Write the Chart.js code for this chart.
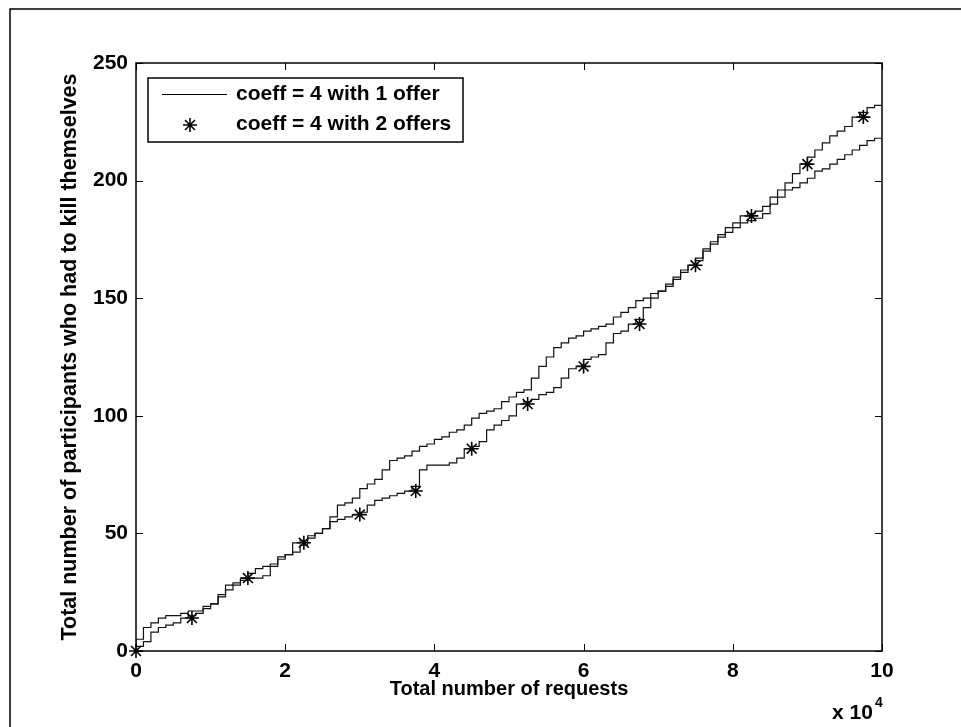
<!DOCTYPE html>
<html>
<head>
<meta charset="utf-8">
<title>Participants who had to kill themselves</title>
<script src="https://cdn.jsdelivr.net/npm/chart.js@4"></script>
<style>
  html, body { margin: 0; padding: 0; background: #fff; }
  #wrap { width: 961px; height: 727px; }
</style>
</head>
<body>
<div id="wrap"><canvas id="chart" width="961" height="727"></canvas></div>
<script>
// valeurs (x en requêtes, y en participants)
const requests = [
  0, 1000, 2000, 3000, 4000, 5000, 6000, 7000, 8000, 9000,
  10000, 11000, 12000, 13000, 14000, 15000, 16000, 17000, 18000, 19000,
  20000, 21000, 22000, 23000, 24000, 25000, 26000, 27000, 28000, 29000,
  30000, 31000, 32000, 33000, 34000, 35000, 36000, 37000, 38000, 39000,
  40000, 41000, 42000, 43000, 44000, 45000, 46000, 47000, 48000, 49000,
  50000, 51000, 52000, 53000, 54000, 55000, 56000, 57000, 58000, 59000,
  60000, 61000, 62000, 63000, 64000, 65000, 66000, 67000, 68000, 69000,
  70000, 71000, 72000, 73000, 74000, 75000, 76000, 77000, 78000, 79000,
  80000, 81000, 82000, 83000, 84000, 85000, 86000, 87000, 88000, 89000,
  90000, 91000, 92000, 93000, 94000, 95000, 96000, 97000, 98000, 99000,
  100000
];
const oneOffer = [
  0, 5, 10, 12, 14, 15, 15, 16, 17, 17,
  19, 20, 23, 26, 28, 30, 33, 35, 36, 37,
  40, 41, 42, 45, 48, 50, 52, 57, 62, 63,
  65, 69, 71, 73, 77, 81, 82, 83, 85, 87,
  88, 90, 91, 93, 94, 96, 99, 101, 102, 103,
  106, 108, 110, 111, 116, 121, 125, 129, 131, 133,
  134, 136, 137, 138, 139, 142, 144, 146, 149, 150,
  152, 153, 155, 158, 161, 164, 166, 170, 173, 176,
  178, 180, 182, 183, 184, 186, 190, 193, 196, 197,
  199, 201, 204, 205, 207, 209, 211, 213, 215, 217,
  218
];
const twoOffers = [
  0, 2, 4, 8, 10, 11, 12, 14, 15, 16,
  18, 20, 24, 28, 29, 31, 31, 31, 32, 36,
  39, 41, 46, 47, 49, 50, 52, 55, 56, 57,
  58, 59, 62, 64, 65, 66, 67, 68, 70, 77,
  79, 79, 79, 80, 82, 86, 87, 89, 94, 96,
  98, 100, 105, 106, 107, 109, 110, 112, 116, 120,
  121, 124, 125, 126, 131, 135, 136, 139, 141, 146,
  150, 153, 156, 159, 162, 164, 167, 171, 174, 177,
  180, 182, 185, 186, 187, 189, 193, 196, 199, 203,
  207, 210, 213, 216, 219, 221, 223, 227, 229, 231,
  232
];
// marqueurs * (tous les 7500 requêtes)
const markerRequests = [0, 7500, 15000, 22500, 30000, 37500, 45000, 52500, 60000, 67500, 75000, 82500, 90000, 97500];
const markerValues   = [0, 14, 31, 46, 58, 68, 86, 105, 121, 139, 164, 185, 207, 227];

const xTicks = [0, 20000, 40000, 60000, 80000, 100000];
const yTicks = [0, 50, 100, 150, 200, 250];

const FONT = '"Liberation Sans", Arial, Helvetica, sans-serif';

function pts(xs, ys) { return xs.map((v, i) => ({ x: v, y: ys[i] })); }

function drawStar(ctx, cx, cy, r) {
  ctx.beginPath();
  for (let k = 0; k < 4; k++) {
    const a = k * Math.PI / 4;
    ctx.moveTo(cx - r * Math.cos(a), cy - r * Math.sin(a));
    ctx.lineTo(cx + r * Math.cos(a), cy + r * Math.sin(a));
  }
  ctx.stroke();
}

// cadre, boite, ticks vers l'intérieur, légende et "x 10^4" façon matlab
const matlabStyle = {
  id: 'matlabStyle',
  beforeDraw(chart) {
    const ctx = chart.ctx;
    ctx.save();
    ctx.fillStyle = '#fff';
    ctx.fillRect(0, 0, chart.width, chart.height);
    ctx.strokeStyle = '#000';
    ctx.lineWidth = 1.5;
    ctx.beginPath();
    ctx.moveTo(10, chart.height);
    ctx.lineTo(10, 9);
    ctx.lineTo(chart.width, 9);
    ctx.stroke();
    ctx.restore();
  },
  afterDraw(chart) {
    const ctx = chart.ctx;
    const a = chart.chartArea;
    const x = chart.scales.x, y = chart.scales.y;
    ctx.save();
    ctx.strokeStyle = '#000';
    ctx.lineWidth = 1.5;
    ctx.strokeRect(a.left, a.top, a.right - a.left, a.bottom - a.top);

    ctx.lineWidth = 1;
    ctx.beginPath();
    x.ticks.forEach(t => {
      const px = Math.round(x.getPixelForValue(t.value)) + 0.5;
      ctx.moveTo(px, a.bottom); ctx.lineTo(px, a.bottom - 7);
      ctx.moveTo(px, a.top);    ctx.lineTo(px, a.top + 7);
    });
    y.ticks.forEach(t => {
      const py = Math.round(y.getPixelForValue(t.value)) + 0.5;
      ctx.moveTo(a.left, py);  ctx.lineTo(a.left + 7, py);
      ctx.moveTo(a.right, py); ctx.lineTo(a.right - 7, py);
    });
    ctx.stroke();

    // exposant de l'axe x
    ctx.fillStyle = '#000';
    ctx.textAlign = 'left';
    ctx.textBaseline = 'alphabetic';
    ctx.font = 'bold 21px ' + FONT;
    ctx.fillText('x 10', 832, 719);
    ctx.font = 'bold 14px ' + FONT;
    ctx.fillText('4', 875, 707);

    // légende
    const ds = chart.data.datasets;
    ctx.fillStyle = '#fff';
    ctx.fillRect(148, 78, 315, 64);
    ctx.lineWidth = 1.5;
    ctx.strokeRect(148, 78, 315, 64);
    ctx.lineWidth = 1.2;
    ctx.beginPath();
    ctx.moveTo(162, 94.5); ctx.lineTo(227, 94.5);
    ctx.stroke();
    ctx.lineWidth = 1.6;
    drawStar(ctx, 190, 125, 7);
    ctx.fillStyle = '#000';
    ctx.font = 'bold 21px ' + FONT;
    ctx.textBaseline = 'middle';
    ctx.fillText(ds[0].label, 236, 94);
    ctx.fillText(ds[2].label, 236, 124);
    ctx.restore();
  }
};

new Chart(document.getElementById('chart').getContext('2d'), {
  type: 'line',
  data: {
    datasets: [
      {
        label: 'coeff = 4 with 1 offer',
        data: pts(requests, oneOffer),
        borderColor: '#111',
        borderWidth: 1.2,
        pointRadius: 0,
        stepped: 'after',
      },
      {
        label: 'coeff = 4 with 2 offers (line)',
        data: pts(requests, twoOffers),
        borderColor: '#111',
        borderWidth: 1.2,
        pointRadius: 0,
        stepped: 'after',
      },
      {
        label: 'coeff = 4 with 2 offers',
        data: pts(markerRequests, markerValues),
        showLine: false,
        pointStyle: 'star',
        pointRadius: 7,
        pointBorderColor: '#000',
        pointBorderWidth: 1.6,
        pointBackgroundColor: '#000',
        clip: false,
      }
    ]
  },
  options: {
    responsive: false,
    animation: false,
    devicePixelRatio: 1,
    layout: { padding: { top: 63, right: 79, left: 0, bottom: 0 } },
    plugins: { legend: { display: false }, tooltip: { enabled: false } },
    scales: {
      x: {
        type: 'linear',
        min: 0, max: 100000,
        afterFit: s => { s.height = 76; },
        afterBuildTicks: s => { s.ticks = xTicks.map(v => ({ value: v })); },
        grid: { display: false, drawTicks: false },
        border: { display: false },
        ticks: {
          color: '#000', padding: 8, maxRotation: 0,
          font: { family: FONT, size: 21, weight: 'bold' },
          callback: v => v / 10000
        },
        title: {
          display: true, text: 'Total number of requests', color: '#000',
          font: { family: FONT, size: 20, weight: 'bold' },
          padding: { top: 0, bottom: 26 }
        }
      },
      y: {
        min: 0, max: 250,
        afterFit: s => { s.width = 136; },
        afterBuildTicks: s => { s.ticks = yTicks.map(v => ({ value: v })); },
        grid: { display: false, drawTicks: false },
        border: { display: false },
        ticks: {
          color: '#000', padding: 8,
          font: { family: FONT, size: 21, weight: 'bold' }
        },
        title: {
          display: true, text: 'Total number of participants who had to kill themselves', color: '#000',
          font: { family: FONT, size: 21.5, weight: 'bold' },
          padding: { top: 57, bottom: 0 }
        }
      }
    }
  },
  plugins: [matlabStyle]
});
</script>
</body>
</html>
